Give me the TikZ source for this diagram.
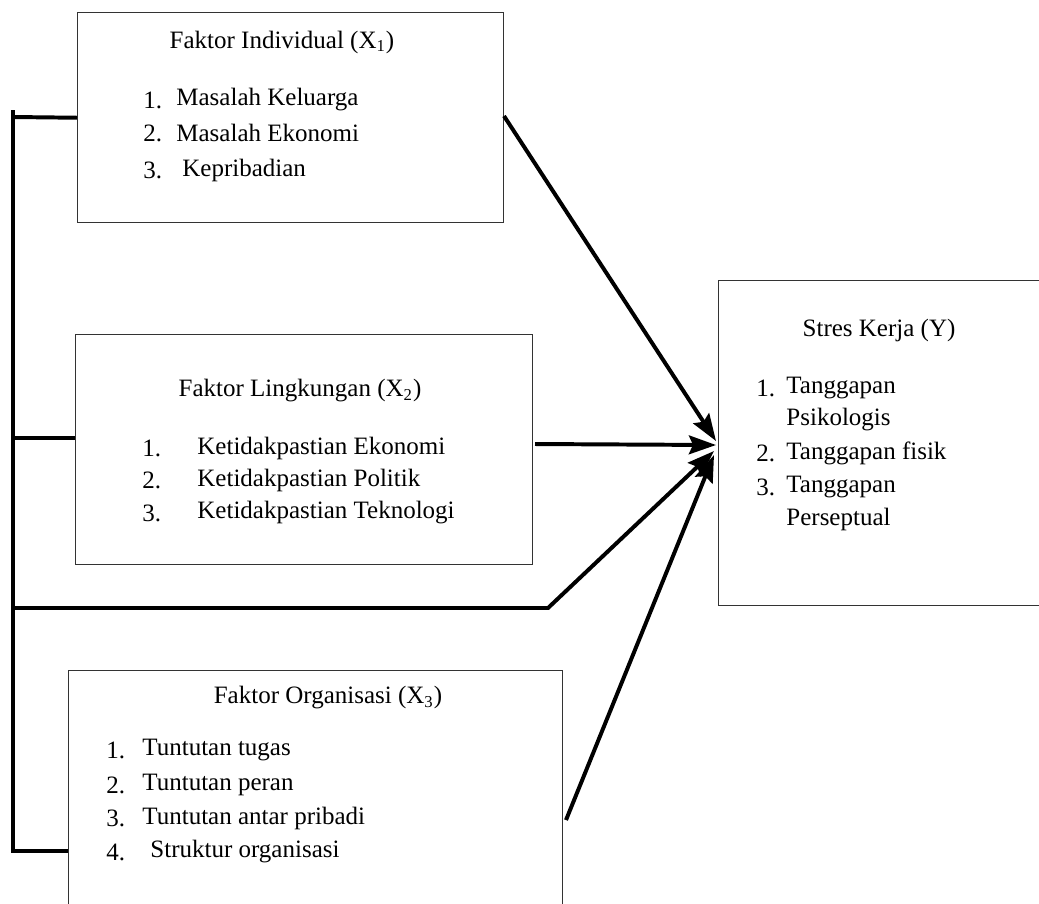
\documentclass[tikz,border=0pt]{standalone}
\usepackage{fontspec}
\setmainfont{Liberation Serif}
\usetikzlibrary{arrows.meta}
\begin{document}
\begin{tikzpicture}[x=0.48pt,y=-0.48pt,
  boxnode/.style={draw=black!80,line width=0.7pt,inner sep=0pt,anchor=north west},
  txt/.style={inner sep=0pt,anchor=west,font=\fontsize{12pt}{14pt}\selectfont},
  ttl/.style={inner sep=0pt,anchor=center,font=\fontsize{12pt}{14pt}\selectfont},
  conn/.style={line width=1.9pt,line join=miter},
  arr/.style={conn,-{Stealth[length=13pt,width=9pt,inset=2pt]}}]
\useasboundingbox (0,0) rectangle (1039,903);
% boxes
\node[boxnode,minimum width=426*0.48pt,minimum height=210*0.48pt] (b1) at (77,12) {};
\node[boxnode,minimum width=457*0.48pt,minimum height=230*0.48pt] (b2) at (75,334) {};
\node[boxnode,minimum width=494*0.48pt,minimum height=250*0.48pt] (b3) at (68,670) {};
\node[boxnode,minimum width=330*0.48pt,minimum height=325*0.48pt] (by) at (718,280) {};
% box 1 text
\node[ttl] (t1) at (282,42) {Faktor Individual (X\textsubscript{1})};
\node[txt] (n11) at (143,100) {1.};
\node[txt] (i11) at (176,100) {Masalah Keluarga};
\node[txt] (n12) at (143,133) {2.};
\node[txt] (i12) at (176,133) {Masalah Ekonomi};
\node[txt] (n13) at (143,170) {3.};
\node[txt] (i13) at (182,170) {Kepribadian};
% box 2 text
\node[ttl] (t2) at (300,391) {Faktor Lingkungan (X\textsubscript{2})};
\node[txt] (n21) at (142,448) {1.};
\node[txt] (i21) at (197,448) {Ketidakpastian Ekonomi};
\node[txt] (n22) at (142,480) {2.};
\node[txt] (i22) at (197,480) {Ketidakpastian Politik};
\node[txt] (n23) at (142,513) {3.};
\node[txt] (i23) at (197,513) {Ketidakpastian Teknologi};
% box 3 text
\node[ttl] (t3) at (328,698) {Faktor Organisasi (X\textsubscript{3})};
\node[txt] (n31) at (106,750) {1.};
\node[txt] (i31) at (142,750) {Tuntutan tugas};
\node[txt] (n32) at (106,785) {2.};
\node[txt] (i32) at (142,785) {Tuntutan peran};
\node[txt] (n33) at (106,818) {3.};
\node[txt] (i33) at (142,818) {Tuntutan antar pribadi};
\node[txt] (n34) at (106,852) {4.};
\node[txt] (i34) at (150,852) {Struktur organisasi};
% box Y text
\node[ttl] (ty) at (879,330) {Stres Kerja (Y)};
\node[txt] (ny1) at (756,388) {1.};
\node[txt] (iy1) at (786,388) {Tanggapan};
\node[txt] (iy1b) at (786,420) {Psikologis};
\node[txt] (ny2) at (756,453) {2.};
\node[txt] (iy2) at (786,453) {Tanggapan fisik};
\node[txt] (ny3) at (756,487) {3.};
\node[txt] (iy3) at (786,487) {Tanggapan};
\node[txt] (iy3b) at (786,519) {Perseptual};
% coordinates
\coordinate (tip) at (716,445);
\coordinate (vtop) at (13,110);
\coordinate (vbot) at (13,853);
\coordinate (s1) at (13,117);
\coordinate (s2) at (13,438);
\coordinate (e2) at (75,438);
\coordinate (s3) at (13,608);
\coordinate (k3) at (548,608);
\coordinate (s4) at (13,851);
\coordinate (e4) at (68,851);
\coordinate (a1) at (504,116);
\coordinate (a2) at (535,444);
\coordinate (a4) at (566,820);
% bracket
\draw[conn] (vtop) -- (vbot);
\draw[conn] (s1) -- (b1.west);
\draw[conn] (s2) -- (e2);
\draw[conn] (s4) -- (e4);
% arrows
\draw[arr] (a1) -- (716,441);
\draw[arr] (a2) -- (tip);
\draw[arr] (s3) -- (k3) -- (714,451);
\draw[arr] (a4) -- (714,455);
\end{tikzpicture}
\end{document}
